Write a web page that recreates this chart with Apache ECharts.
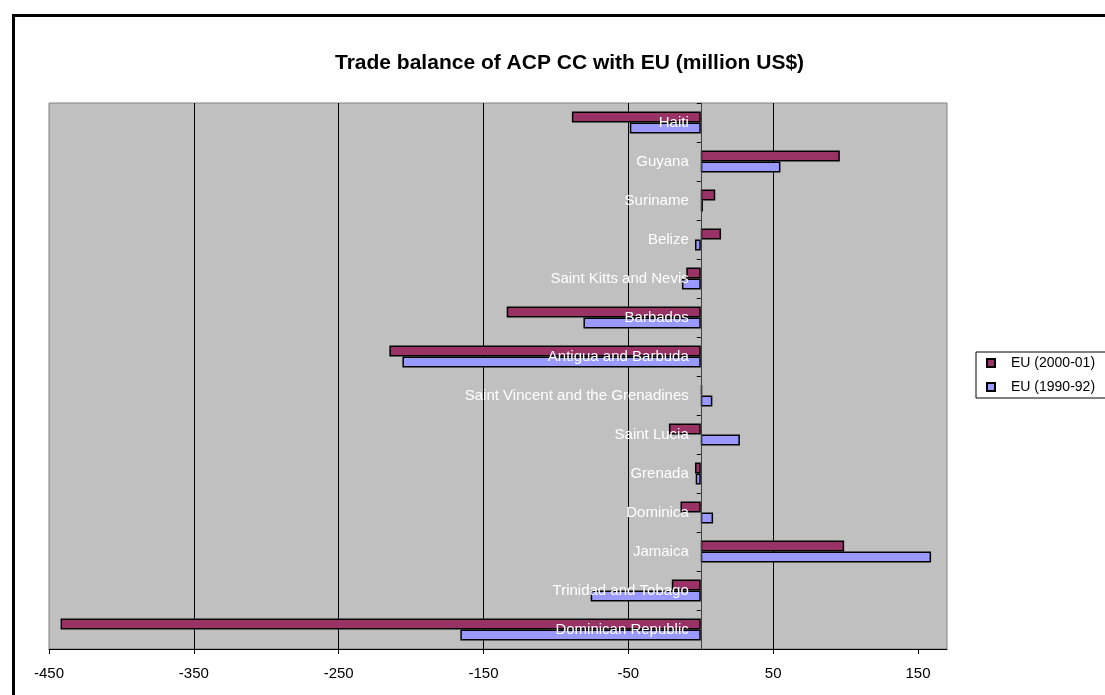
<!DOCTYPE html>
<html>
<head>
<meta charset="utf-8">
<script src="https://cdn.jsdelivr.net/npm/echarts@6/dist/echarts.min.js"></script>
<style>
html,body{margin:0;padding:0;background:#fff;}
#chart{width:1105px;height:695px;}
</style>
</head>
<body>
<div id="chart"></div>
<script>
var categories = ["Haiti","Guyana","Suriname","Belize","Saint Kitts and Nevis","Barbados","Antigua and Barbuda","Saint Vincent and the Grenadines","Saint Lucia","Grenada","Dominica","Jamaica","Trinidad and Tobago","Dominican Republic"];
var eu2000 = [-89, 96, 10, 14, -10, -134, -215, 1, -22, -4, -14, 99, -20, -442];
var eu1990 = [-49, 55, 1.5, -4, -13, -81, -206, 8, 27, -3.5, 8.5, 159, -76, -166];
var xTicks = [-450, -350, -250, -150, -50, 50, 150];
var seriesNames = ["EU (2000-01)", "EU (1990-92)"];

var FONT = "'Liberation Sans', Arial, sans-serif";
var GRID_LEFT = 49;
var chart = echarts.init(document.getElementById('chart'), null, {renderer: 'canvas'});
chart.setOption({
  animation: false,
  backgroundColor: '#ffffff',
  title: {
    text: 'Trade balance of ACP CC with EU (million US$)',
    left: 330, top: 48,
    textStyle: {fontFamily: FONT, fontSize: 21, fontWeight: 'bold', color: '#000'}
  },
  legend: {
    data: seriesNames,
    orient: 'vertical',
    left: 976, top: 352,
    padding: [4, 40, 4, 10],
    itemGap: 10,
    itemWidth: 8, itemHeight: 8,
    icon: 'rect',
    borderColor: '#000', borderWidth: 1,
    textStyle: {fontFamily: FONT, fontSize: 14, color: '#000', padding: [0, 0, 0, 11]}
  },
  graphic: [{
    type: 'rect', z: 100,
    shape: {x: 13.5, y: 15.5, width: 1200, height: 800},
    style: {fill: 'none', stroke: '#000', lineWidth: 3}
  }],
  grid: {
    left: GRID_LEFT, right: 158, top: 103, bottom: 46,
    containLabel: false, outerBoundsMode: 'none',
    show: true, backgroundColor: '#C0C0C0', borderColor: '#808080', borderWidth: 1
  },
  xAxis: {
    type: 'value', min: -450, max: 170,
    axisLine: {show: true, onZero: false, lineStyle: {color: '#000', width: 1}},
    axisTick: {show: true, length: 5, customValues: xTicks, lineStyle: {color: '#000'}},
    axisLabel: {customValues: xTicks, margin: 17, fontFamily: FONT, fontSize: 15, color: '#000'},
    splitLine: {show: true, showMinLine: false, showMaxLine: false, lineStyle: {color: '#000', width: 1}}
  },
  yAxis: {
    type: 'category', data: categories, inverse: true, z: 10,
    position: 'left', offset: 0,
    axisLine: {show: true, onZero: false, lineStyle: {color: '#404040', width: 1}},
    axisTick: {show: true, length: 4, lineStyle: {color: '#000'}},
    axisLabel: {show: true, interval: 0, margin: 12, padding: [4, 0, 0, 0], fontFamily: FONT, fontSize: 15, color: '#ffffff'},
    splitLine: {show: false}
  },
  series: [{
    name: seriesNames[0], type: 'bar', data: eu2000,
    barWidth: 11, barGap: '0%',
    itemStyle: {color: '#993366', borderColor: '#000', borderWidth: 1.5}
  }, {
    name: seriesNames[1], type: 'bar', data: eu1990,
    barWidth: 11, barGap: '0%',
    itemStyle: {color: '#9999FF', borderColor: '#000', borderWidth: 1.5}
  }]
});
// place the category axis at the value axis' zero
var zeroPx = chart.convertToPixel({xAxisIndex: 0}, 0);
chart.setOption({yAxis: {offset: -(zeroPx - GRID_LEFT)}});
</script>
</body>
</html>
